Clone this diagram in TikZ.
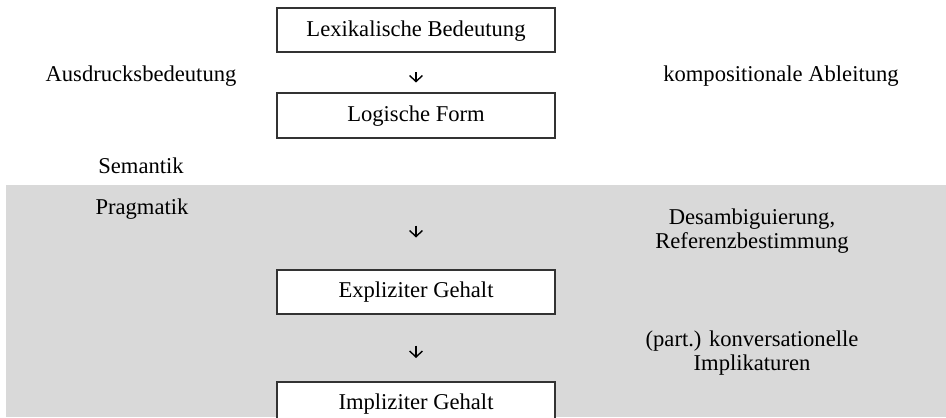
\documentclass[tikz,border=0pt]{standalone}
\usepackage{fontspec}
\setmainfont{Liberation Serif}
\usepackage{xcolor}
\usepackage{tikz}
\usetikzlibrary{arrows.meta}

\definecolor{pragbg}{HTML}{D9D9D9}
\definecolor{boxline}{HTML}{333333}

\begin{document}
\begin{tikzpicture}[x=0.5pt,y=-0.5pt,
    every node/.style={font=\fontsize{11.3}{12}\selectfont},
    stufe/.style={draw=boxline, line width=1pt, fill=white, minimum width=139pt,
        minimum height=22pt, inner sep=0pt, text height=1.5ex, text depth=.3ex},
    seite/.style={align=center, inner sep=0pt},
    schritt/.style={-{Straight Barb[length=3pt,width=6.4pt,line width=0.7pt]}, line width=0.7pt}]
            \useasboundingbox (0,0) rectangle (946,417);
            % grauer Bereich: Pragmatik
            \fill [pragbg] (6,185) rectangle (946,417);
            % die Stufen der Bedeutung
            \node [stufe] (lex) at (416,30.5) {Lexikalische Bedeutung};
            \node [stufe] (lf) at (416,115.5) {Logische Form};
            \node [stufe] (expl) at (416,291.5) {Expliziter Gehalt};
            \node [stufe] (impl) at (416,404) {Impliziter Gehalt};
            \draw [schritt, shorten <=9.5pt, shorten >=5pt] (lex) -- (lf);
            \draw [schritt, shorten <=43.5pt, shorten >=15.5pt] (lf) -- (expl);
            \draw [schritt, shorten <=15.5pt, shorten >=11.5pt] (expl) -- (impl);
            % Beschriftungen links und rechts
            \node [seite, anchor=base] (ausdruck) at (141,82) {Ausdrucksbedeutung};
            \node [seite, anchor=base] (komp) at (781,82) {kompositionale Ableitung};
            \node [seite, anchor=base] (sem) at (141,173) {Semantik};
            \node [seite, anchor=base] (prag) at (142,214) {Pragmatik};
            \node [seite] (desamb) at (752,231) {Desambiguierung,\\Referenzbestimmung};
            \node [seite] (konv) at (752,353) {(part.) konversationelle\\Implikaturen};
        \end{tikzpicture}
\end{document}
